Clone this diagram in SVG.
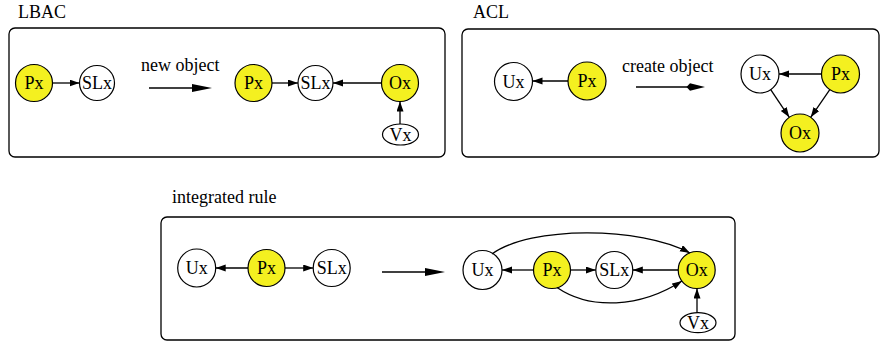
<svg xmlns="http://www.w3.org/2000/svg" width="881" height="342" viewBox="0 0 881 342">
  <style>
    text { font-family: "Liberation Serif", "Times New Roman", serif; font-size: 18px; fill: #000; }
    .lbl { text-anchor: middle; }
    .panel { fill: none; stroke: #000; stroke-width: 1.3; }
    .n { fill: #fff; stroke: #000; stroke-width: 1.2; }
    .y { fill: #f4f020; stroke: #000; stroke-width: 1.2; }
    .e { fill: none; stroke: #000; stroke-width: 1.3; marker-end: url(#ah); }
    .big { fill: none; stroke: #000; stroke-width: 1.3; }
  </style>
  <defs>
    <marker id="ah" markerUnits="userSpaceOnUse" markerWidth="11" markerHeight="8" refX="10" refY="3.5" orient="auto">
      <path d="M0,0 L10,3.5 L0,7 z" fill="#000"/>
    </marker>
  </defs>

  <!-- panel frames and titles -->
  <g id="panels">
    <rect class="panel" x="9" y="28" width="436" height="129" rx="6"/>
    <rect class="panel" x="462" y="29" width="417" height="128" rx="6"/>
    <rect class="panel" x="161" y="217" width="574" height="123" rx="6"/>
    <text x="18" y="18">LBAC</text>
    <text x="473" y="18">ACL</text>
    <text x="172" y="203">integrated rule</text>
  </g>

  <!-- LBAC nodes -->
  <g id="lbac-px1"><circle class="y" cx="34" cy="83" r="18.5"/><text class="lbl" x="34" y="89">Px</text></g>
  <g id="lbac-slx1"><circle class="n" cx="97" cy="83" r="17.5"/><text class="lbl" x="97" y="89">SLx</text></g>
  <g id="lbac-px2"><circle class="y" cx="253.5" cy="83" r="18.5"/><text class="lbl" x="253.5" y="89">Px</text></g>
  <g id="lbac-slx2"><circle class="n" cx="315.5" cy="83" r="17.5"/><text class="lbl" x="315.5" y="89">SLx</text></g>
  <g id="lbac-ox"><circle class="y" cx="400" cy="83" r="18.5"/><text class="lbl" x="400" y="89">Ox</text></g>
  <g id="lbac-vx"><ellipse class="n" cx="400.5" cy="134.5" rx="18" ry="10.5"/><text class="lbl" x="400.5" y="141">Vx</text></g>

  <!-- ACL nodes -->
  <g id="acl-ux1"><circle class="n" cx="513.5" cy="81.5" r="19"/><text class="lbl" x="513.5" y="87.5">Ux</text></g>
  <g id="acl-px1"><circle class="y" cx="587" cy="81" r="19"/><text class="lbl" x="587" y="87">Px</text></g>
  <g id="acl-ux2"><circle class="n" cx="760" cy="74" r="19"/><text class="lbl" x="760" y="80">Ux</text></g>
  <g id="acl-px2"><circle class="y" cx="840.5" cy="74" r="19"/><text class="lbl" x="840.5" y="80">Px</text></g>
  <g id="acl-ox"><circle class="y" cx="800" cy="133" r="19"/><text class="lbl" x="800" y="139">Ox</text></g>

  <!-- integrated rule nodes -->
  <g id="int-ux1"><circle class="n" cx="196.7" cy="268" r="19"/><text class="lbl" x="196.7" y="274">Ux</text></g>
  <g id="int-px1"><circle class="y" cx="266.5" cy="268" r="18.5"/><text class="lbl" x="266.5" y="274">Px</text></g>
  <g id="int-slx1"><circle class="n" cx="331.7" cy="268" r="18.5"/><text class="lbl" x="331.7" y="274">SLx</text></g>
  <g id="int-ux2"><circle class="n" cx="482.5" cy="270" r="19.5"/><text class="lbl" x="482.5" y="276">Ux</text></g>
  <g id="int-px2"><circle class="y" cx="552" cy="270" r="18.5"/><text class="lbl" x="552" y="276">Px</text></g>
  <g id="int-slx2"><circle class="n" cx="614.3" cy="270" r="18.5"/><text class="lbl" x="614.3" y="276">SLx</text></g>
  <g id="int-ox"><circle class="y" cx="696.7" cy="270" r="18.5"/><text class="lbl" x="696.7" y="276">Ox</text></g>
  <g id="int-vx"><ellipse class="n" cx="698" cy="322.7" rx="18" ry="10"/><text class="lbl" x="698" y="329">Vx</text></g>

  <!-- transition labels -->
  <g id="transition-labels">
    <text x="141" y="71">new object</text>
    <text x="622" y="72">create object</text>
  </g>

  <!-- connectors -->
  <g id="connectors">
    <!-- LBAC -->
    <line class="e" x1="52.5" y1="83" x2="79.5" y2="83"/>
    <line class="e" x1="272" y1="83" x2="298" y2="83"/>
    <line class="e" x1="381.5" y1="83" x2="333" y2="83"/>
    <line class="e" x1="400" y1="124" x2="400" y2="101.5"/>
    <line class="big" x1="149" y1="88" x2="195" y2="88"/>
    <polygon points="192,84 212,88 192,92" fill="#000"/>

    <!-- ACL -->
    <line class="e" x1="568" y1="81" x2="532.5" y2="81"/>
    <line class="big" x1="636" y1="87" x2="690" y2="87"/>
    <polygon points="686.5,87 690,83.3 705,87 690,90.7" fill="#000"/>
    <line class="e" x1="821.5" y1="74" x2="779" y2="74"/>
    <line class="e" x1="770.7" y1="89.7" x2="789.3" y2="117.3"/>
    <line class="e" x1="829.8" y1="89.7" x2="810.7" y2="117.3"/>

    <!-- integrated rule -->
    <line class="e" x1="248" y1="268" x2="215.7" y2="268"/>
    <line class="e" x1="285" y1="268" x2="313.2" y2="268"/>
    <line class="big" x1="382" y1="272" x2="428" y2="272"/>
    <polygon points="425,268 445,272 425,276" fill="#000"/>
    <line class="e" x1="533.5" y1="270" x2="502" y2="270"/>
    <line class="e" x1="570.5" y1="270" x2="595.8" y2="270"/>
    <line class="e" x1="678.2" y1="270" x2="632.8" y2="270"/>
    <line class="e" x1="697" y1="312.7" x2="697" y2="288.5"/>
    <path class="e" d="M492,254 C530,226 640,226 690,253"/>
    <path class="e" d="M557,287.5 C590,310 640,308 682,281"/>
  </g>
</svg>
